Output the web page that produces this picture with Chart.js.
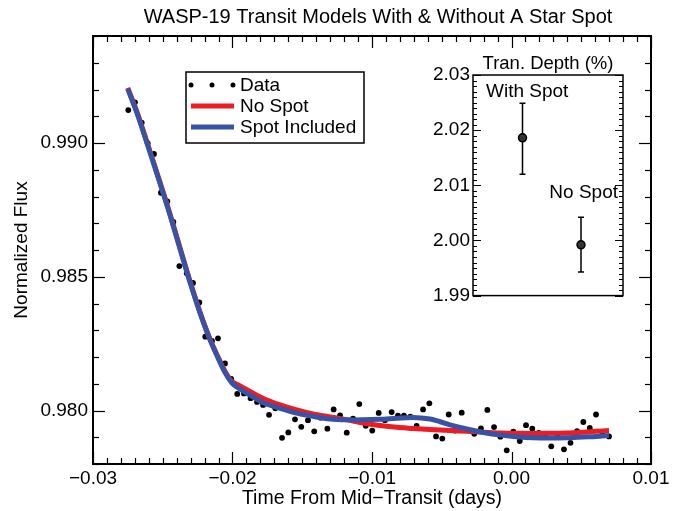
<!DOCTYPE html>
<html>
<head>
<meta charset="utf-8">
<script src="https://cdn.jsdelivr.net/npm/chart.js@4.4.1/dist/chart.umd.min.js"></script>
<style>
	body { margin: 0; background: #fff; }
	#wrap { position: relative; width: 678px; height: 511px; }
	#graficoTransito { position: absolute; left: 0; top: 0; }
	#insetBox { position: absolute; left: 415px; top: 40px; width: 215px; height: 270px; }
</style>
</head>
<body>
<div id="wrap">
	<canvas id="graficoTransito" width="678" height="511"></canvas>
	<div id="insetBox"><canvas id="graficoProfundidade"></canvas></div>
</div>
<script>
var tituloGrafico = 'WASP-19 Transit Models With & Without A Star Spot';
var tituloX = 'Time From Mid\u2212Transit (days)';
var tituloY = 'Normalized Flux';

var xTicks = [-0.03, -0.02, -0.01, 0.00, 0.01];
var xTickLabels = ['\u22120.03', '\u22120.02', '\u22120.01', '0.00', '0.01'];
var yTicks = [0.980, 0.985, 0.990];
var yTickLabels = ['0.980', '0.985', '0.990'];

var tempoDados = [
	-0.02747, -0.02699, -0.02651, -0.02608, -0.02563, -0.02513, -0.02467, -0.02424, -0.02381, -0.02328,
	-0.02283, -0.02238, -0.02195, -0.02147, -0.02104, -0.02054, -0.02009, -0.01966, -0.01918, -0.01870,
	-0.01824, -0.01781, -0.01738, -0.01693, -0.01645, -0.01600, -0.01552, -0.01507, -0.01459, -0.01414,
	-0.01368, -0.01320, -0.01275, -0.01229, -0.01181, -0.01136, -0.01091, -0.01045, -0.00998, -0.00952,
	-0.00907, -0.00859, -0.00814, -0.00771, -0.00725, -0.00680, -0.00634, -0.00589, -0.00541, -0.00496,
	-0.00450, -0.00405, -0.00357, -0.00310, -0.00267, -0.00219, -0.00173, -0.00125, -0.00080, -0.00034,
	0.00013, 0.00059, 0.00104, 0.00149, 0.00195, 0.00240, 0.00285, 0.00331, 0.00376, 0.00423,
	0.00470, 0.00515, 0.00561, 0.00606, 0.00651, 0.00699
];
var fluxoDados = [
	0.99123, 0.99152, 0.99076, 0.98999, 0.98959, 0.98814, 0.98782, 0.98705, 0.98540, 0.98513,
	0.98477, 0.98404, 0.98276, 0.98260, 0.98270, 0.98176, 0.98118, 0.98062, 0.98064, 0.98046,
	0.98032, 0.98021, 0.97984, 0.98008, 0.97898, 0.97918, 0.97967, 0.97939, 0.97964, 0.97922,
	0.97973, 0.97932, 0.98004, 0.97982, 0.97917, 0.97970, 0.98024, 0.97943, 0.97925, 0.97991,
	0.97964, 0.97994, 0.97981, 0.97981, 0.97977, 0.97942, 0.98004, 0.98027, 0.97903, 0.97895,
	0.97985, 0.97925, 0.97992, 0.97926, 0.97913, 0.97933, 0.98002, 0.97938, 0.97902, 0.97851,
	0.97921, 0.97886, 0.97945, 0.97932, 0.97916, 0.97912, 0.97866, 0.97912, 0.97855, 0.97879,
	0.97923, 0.97957, 0.97935, 0.97985, 0.97916, 0.97903
];

var tempoModelo = [
	-0.02751, -0.02682, -0.02604, -0.02525, -0.02448, -0.02376, -0.02305, -0.02233, -0.02161, -0.02090,
	-0.02047, -0.02004, -0.01946, -0.01875, -0.01779, -0.01659, -0.01540, -0.01423, -0.01301, -0.01179,
	-0.01062, -0.00943, -0.00823, -0.00706, -0.00584, -0.00512, -0.00441, -0.00321, -0.00202, -0.00082,
	0.00037, 0.00156, 0.00276, 0.00396, 0.00515, 0.00606, 0.00699
];
var fluxoSemMancha = [
	0.99206, 0.99112, 0.98989, 0.98862, 0.98735, 0.98608, 0.98484, 0.98368, 0.98267, 0.98185,
	0.98140, 0.98108, 0.98092, 0.98071, 0.98045, 0.98021, 0.98002, 0.97987, 0.97976, 0.97965,
	0.97953, 0.97944, 0.97937, 0.97933, 0.97929, 0.97927, 0.97925, 0.97922, 0.97919, 0.97916,
	0.97915, 0.97914, 0.97915, 0.97916, 0.97919, 0.97922, 0.97925
];
var fluxoComMancha = [
	0.99202, 0.99108, 0.98985, 0.98858, 0.98731, 0.98604, 0.98480, 0.98365, 0.98264, 0.98181,
	0.98136, 0.98103, 0.98080, 0.98058, 0.98029, 0.98008, 0.97990, 0.97978, 0.97968, 0.97965,
	0.97965, 0.97967, 0.97971, 0.97974, 0.97968, 0.97958, 0.97946, 0.97931, 0.97918, 0.97908,
	0.97902, 0.97898, 0.97897, 0.97898, 0.97901, 0.97903, 0.97907
];

// inset: transit depth (%)
var rotulosProfundidade = ['With Spot', 'No Spot'];
var posProfundidade = [0.33, 0.72];
var profundidade = [2.0186, 1.9992];
var erroSuperior = [2.0249, 2.0042];
var erroInferior = [2.0120, 1.9943];
var insetTicks = [1.99, 2.00, 2.01, 2.02, 2.03];
var tituloInset = 'Tran. Depth (%)';

var fonte = "'Liberation Sans', Arial, Helvetica, sans-serif";
Chart.defaults.font.family = fonte;
Chart.defaults.color = '#000';

function pares(xs, ys) {
	return xs.map(function(x, i) { return { x: x, y: ys[i] }; });
}

function desenharTicks(ctx, area, scale, vertical, passo, maior, lados, longo, curto) {
	var inicio = Math.ceil(scale.min / passo - 1e-6);
	var fim = Math.floor(scale.max / passo + 1e-6);
	for (var k = inicio; k <= fim; k++) {
		var v = k * passo;
		var r = Math.abs(v / maior - Math.round(v / maior)) < 1e-6;
		var len = r ? longo : curto;
		var p = Math.round(scale.getPixelForValue(v)) + 0.5;
		lados.forEach(function(lado) {
			ctx.beginPath();
			if (vertical) {
				var x0 = lado === 'left' ? area.left : area.right;
				ctx.moveTo(x0, p);
				ctx.lineTo(lado === 'left' ? x0 + len : x0 - len, p);
			} else {
				var y0 = lado === 'bottom' ? area.bottom : area.top;
				ctx.moveTo(p, y0);
				ctx.lineTo(p, lado === 'bottom' ? y0 - len : y0 + len);
			}
			ctx.stroke();
		});
	}
}

var molduraPrincipal = {
	id: 'molduraPrincipal',
	afterDraw: function(chart) {
		var ctx = chart.ctx, a = chart.chartArea;
		ctx.save();
		ctx.strokeStyle = '#000';
		ctx.lineWidth = 1.2;
		desenharTicks(ctx, a, chart.scales.x, false, 0.001, 0.01, ['bottom', 'top'], 12, 6);
		desenharTicks(ctx, a, chart.scales.y, true, 0.001, 0.005, ['left', 'right'], 12, 6);
		ctx.lineWidth = 2;
		ctx.strokeRect(a.left, a.top, a.right - a.left, a.bottom - a.top);

		ctx.fillStyle = '#000';
		ctx.font = '20px ' + fonte;
		ctx.textAlign = 'center';
		ctx.textBaseline = 'middle';
		ctx.fillText(tituloGrafico, (a.left + a.right) / 2 + 6, 17);

		// legenda
		var lx = a.left + 93, ly = a.top + 36;
		ctx.lineWidth = 1.5;
		ctx.strokeRect(lx, ly, 178, 71);
		var ds = chart.data.datasets;
		ctx.textAlign = 'left';
		ctx.font = '19px ' + fonte;
		[0, 1, 2].forEach(function(i) {
			var yy = ly + 13 + i * 21;
			if (i === 0) {
				ctx.fillStyle = ds[0].backgroundColor;
				[5, 26, 47].forEach(function(dx) {
					ctx.beginPath();
					ctx.arc(lx + dx, yy, 2.5, 0, Math.PI * 2);
					ctx.fill();
				});
			} else {
				ctx.strokeStyle = ds[i].borderColor;
				ctx.lineWidth = 5;
				ctx.beginPath();
				ctx.moveTo(lx + 5, yy);
				ctx.lineTo(lx + 48, yy);
				ctx.stroke();
			}
			ctx.fillStyle = '#000';
			ctx.fillText(ds[i].label, lx + 54, yy + 1);
		});
		ctx.restore();
	}
};

var graficoTransito = new Chart(document.getElementById('graficoTransito').getContext('2d'), {
	type: 'line',
	data: {
		datasets: [{
			label: 'Data',
			data: pares(tempoDados, fluxoDados),
			showLine: false,
			pointRadius: 2.9,
			pointBackgroundColor: '#000',
			pointBorderWidth: 0,
			backgroundColor: '#000',
			order: 3
		},
		{
			label: 'No Spot',
			data: pares(tempoModelo, fluxoSemMancha),
			borderColor: '#ed1c24',
			borderWidth: 5,
			pointRadius: 0,
			tension: 0.3,
			order: 2
		},
		{
			label: 'Spot Included',
			data: pares(tempoModelo, fluxoComMancha),
			borderColor: '#3953a4',
			borderWidth: 5,
			pointRadius: 0,
			tension: 0.3,
			order: 1
		}]
	},
	options: {
		responsive: false,
		animation: false,
		layout: { padding: { top: 36, right: 27, left: 0, bottom: 0 } },
		plugins: { legend: { display: false }, tooltip: { enabled: false } },
		scales: {
			x: {
				type: 'linear',
				min: -0.03,
				max: 0.01,
				grid: { display: false, drawTicks: false },
				border: { display: false },
				afterBuildTicks: function(s) { s.ticks = xTicks.map(function(v) { return { value: v }; }); },
				afterFit: function(s) { s.height = 47; },
				ticks: {
					autoSkip: false,
					maxRotation: 0,
					padding: 3,
					font: { size: 19 },
					callback: function(v, i) { return xTickLabels[i]; }
				},
				title: { display: true, text: tituloX, font: { size: 19.5 }, padding: { top: 0, bottom: 1 } }
			},
			y: {
				type: 'linear',
				min: 0.978,
				max: 0.994,
				grid: { display: false, drawTicks: false },
				border: { display: false },
				afterBuildTicks: function(s) { s.ticks = yTicks.map(function(v) { return { value: v }; }); },
				afterFit: function(s) { s.width = 93; },
				ticks: {
					padding: 5,
					font: { size: 19 },
					callback: function(v, i) { return yTickLabels[i]; }
				},
				title: { display: true, text: tituloY, font: { size: 19 }, padding: { top: 10, bottom: 0 } }
			}
		}
	},
	plugins: [molduraPrincipal]
});

var molduraInset = {
	id: 'molduraInset',
	beforeDatasetsDraw: function(chart) {
		var ctx = chart.ctx, sx = chart.scales.x, sy = chart.scales.y;
		ctx.save();
		ctx.strokeStyle = '#000';
		ctx.lineWidth = 1.5;
		posProfundidade.forEach(function(p, i) {
			var x = sx.getPixelForValue(p);
			var y1 = sy.getPixelForValue(erroSuperior[i]);
			var y2 = sy.getPixelForValue(erroInferior[i]);
			ctx.beginPath();
			ctx.moveTo(x, y1); ctx.lineTo(x, y2);
			ctx.moveTo(x - 3, y1); ctx.lineTo(x + 3, y1);
			ctx.moveTo(x - 3, y2); ctx.lineTo(x + 3, y2);
			ctx.stroke();
		});
		ctx.restore();
	},
	afterDraw: function(chart) {
		var ctx = chart.ctx, a = chart.chartArea;
		ctx.save();
		ctx.strokeStyle = '#000';
		ctx.lineWidth = 1;
		desenharTicks(ctx, a, chart.scales.y, true, 0.001, 0.01, ['left', 'right'], 8, 4);
		ctx.lineWidth = 1.5;
		ctx.strokeRect(a.left, a.top, a.right - a.left, a.bottom - a.top);
		ctx.fillStyle = '#000';
		ctx.font = '18.5px ' + fonte;
		ctx.textBaseline = 'middle';
		ctx.textAlign = 'center';
		ctx.fillText(tituloInset, (a.left + a.right) / 2, a.top - 11);
		ctx.font = '19px ' + fonte;
		ctx.textAlign = 'left';
		ctx.fillText(rotulosProfundidade[0], a.left + 13, a.top + 17);
		ctx.textAlign = 'right';
		ctx.fillText(rotulosProfundidade[1], a.right - 5, chart.scales.y.getPixelForValue(2.0086));
		ctx.restore();
	}
};

var graficoProfundidade = new Chart(document.getElementById('graficoProfundidade').getContext('2d'), {
	type: 'scatter',
	data: {
		datasets: [{
			label: tituloInset,
			data: pares(posProfundidade, profundidade),
			pointRadius: 4,
			pointBorderWidth: 1.5,
			pointBorderColor: '#000',
			pointBackgroundColor: '#333'
		}]
	},
	options: {
		responsive: true,
		maintainAspectRatio: false,
		animation: false,
		layout: { padding: { top: 35, right: 7, left: 0, bottom: 13 } },
		plugins: { legend: { display: false }, tooltip: { enabled: false } },
		scales: {
			x: { type: 'linear', min: 0, max: 1, display: false },
			y: {
				type: 'linear',
				min: 1.99,
				max: 2.03,
				grid: { display: false, drawTicks: false },
				border: { display: false },
				afterBuildTicks: function(s) { s.ticks = insetTicks.map(function(v) { return { value: v }; }); },
				afterFit: function(s) { s.width = 58; },
				ticks: {
					padding: 3,
					font: { size: 19 },
					callback: function(v) { return v.toFixed(2); }
				}
			}
		}
	},
	plugins: [molduraInset]
});
</script>
</body>
</html>
